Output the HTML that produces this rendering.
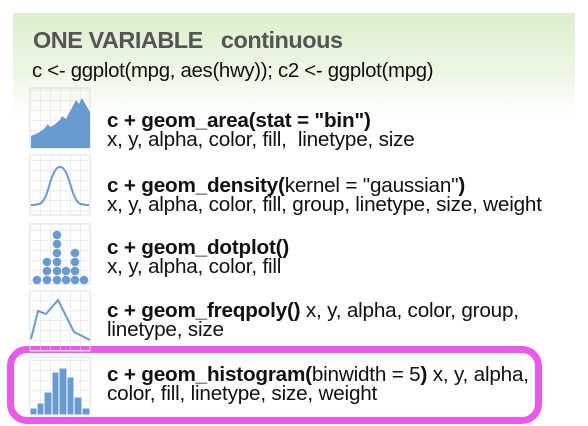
<!DOCTYPE html>
<html><head><meta charset="utf-8"><style>
body{margin:0;width:588px;height:426px;background:#fff;position:relative;overflow:hidden;font-family:"Liberation Sans",sans-serif;color:#111}
.t{position:absolute;left:107px;font-size:20.7px;line-height:19px;letter-spacing:-0.2px;white-space:nowrap}
b{font-weight:bold}
</style></head><body>
<div style="position:absolute;left:13px;top:13px;width:562px;height:102px;background:linear-gradient(#dcefcc,#eef7e6 60%,#ffffff)"></div>
<div style="position:absolute;left:33px;top:27px;font-size:23.5px;font-weight:bold;color:#555;letter-spacing:-0.5px">ONE VARIABLE&nbsp;&nbsp;&nbsp;continuous</div>
<div style="position:absolute;left:32px;top:60px;font-size:20.4px;letter-spacing:-0.3px">c &lt;- ggplot(mpg, aes(hwy)); c2 &lt;- ggplot(mpg)</div>
<div style="position:absolute;left:7px;top:346px;width:521px;height:64px;border:7px solid #e95ae9;border-radius:20px"></div>
<svg width="588" height="426" style="position:absolute;left:0;top:0">
<defs><pattern id="g" width="10" height="10" patternUnits="userSpaceOnUse" x="30" y="0"><path d="M0 0H10M0 0V10" stroke="#ddd" stroke-width="1" fill="none"/></pattern></defs>
<g fill="#fff" stroke="#ddd">
<rect x="30" y="88" width="60" height="60" fill="url(#g)"/>
<rect x="30" y="155" width="60" height="60" fill="url(#g)"/>
<rect x="30" y="224" width="60" height="60" fill="url(#g)"/>
<rect x="30" y="291" width="60" height="60" fill="url(#g)"/>
<rect x="30" y="357" width="60" height="58" fill="url(#g)"/>
</g>
<path d="M31 136L38 133L44 129L48 124L50 127L54 125L60 120L62 116L66 119L69 113L73 106L76 100L79 104L82 98L87 107L90 112V148H31Z" fill="#6a9bd0"/>
<path d="M31 205C40 205 43 204 47 193C51 180 54 167 60 167C66 167 69 180 73 193C77 204 80 205 89 205" stroke="#6a9bd0" stroke-width="2" fill="none"/>
<g fill="#6a9bd0">
<circle cx="57" cy="235" r="4.3"/><circle cx="57" cy="244" r="4.3"/><circle cx="57" cy="253" r="4.3"/><circle cx="57" cy="262" r="4.3"/><circle cx="57" cy="271" r="4.3"/><circle cx="57" cy="280" r="4.3"/>
<circle cx="47" cy="262" r="4.3"/><circle cx="47" cy="271" r="4.3"/><circle cx="47" cy="280" r="4.3"/>
<circle cx="37" cy="280" r="4.3"/><circle cx="66" cy="271" r="4.3"/><circle cx="66" cy="280" r="4.3"/>
<circle cx="75" cy="253" r="4.3"/><circle cx="75" cy="262" r="4.3"/><circle cx="75" cy="271" r="4.3"/><circle cx="75" cy="280" r="4.3"/>
<circle cx="84" cy="280" r="4.3"/>
</g>
<path d="M31 339L38 311L46 314L58 300L74 332L90 340" stroke="#6a9bd0" stroke-width="2" fill="none"/>
<g fill="#6a9bd0" stroke="#fff" stroke-width="1">
<rect x="30" y="408" width="7" height="7"/><rect x="37" y="403" width="7" height="12"/><rect x="44" y="392" width="8" height="23"/><rect x="52" y="372" width="7" height="43"/><rect x="59" y="368" width="8" height="47"/><rect x="67" y="377" width="7" height="38"/><rect x="74" y="397" width="8" height="18"/><rect x="82" y="408" width="8" height="7"/>
</g>
</svg>
<div class="t" style="top:111px"><b>c + geom_area(stat = "bin")</b><br>x, y, alpha, color, fill,&nbsp; linetype, size</div>
<div class="t" style="top:176px"><b>c + geom_density(</b>kernel = "gaussian"<b>)</b><br>x, y, alpha, color, fill, group, linetype, size, weight</div>
<div class="t" style="top:238px"><b>c + geom_dotplot()</b><br>x, y, alpha, color, fill</div>
<div class="t" style="top:301px"><b>c + geom_freqpoly()</b> x, y, alpha, color, group,<br>linetype, size</div>
<div class="t" style="top:365px"><b>c + geom_histogram(</b>binwidth = 5<b>)</b> x, y, alpha,<br>color, fill, linetype, size, weight</div>
</body></html>
